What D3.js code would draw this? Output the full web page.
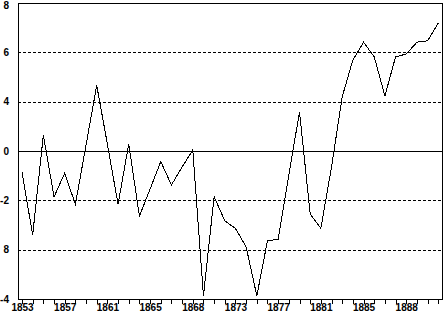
<!DOCTYPE html>
<html>
<head>
<meta charset="utf-8">
<script src="https://cdn.jsdelivr.net/npm/d3@7"></script>
<style>
    body { margin: 0; background: #fff; }
    text { font-family: "Liberation Sans", Arial, sans-serif; font-weight: bold; font-size: 10px; fill: #000; }
</style>
</head>
<body>
<div id="chart"></div>
<script>
    // values, one per year
    var years = d3.range(1953, 1993);
    var values = [-0.85, -3.41, 0.65, -1.86, -0.90, -2.16, 0.24, 2.66, 0.28, -2.16,
                  0.28, -2.64, -1.54, -0.43, -1.38, -0.65, 0.04, -5.87, -1.85, -2.83,
                  -3.14, -3.89, -5.87, -3.64, -3.58, -0.97, 1.59, -2.55, -3.13, -0.65,
                  2.20, 3.69, 4.41, 3.82, 2.23, 3.82, 3.93, 4.41, 4.47, 5.18];

    // tick values and the labels as printed on the chart
    var yTicks = [-6, -4, -2, 0, 2, 4, 6];
    var yLabels = ["-4", "8", "-2", "0", "4", "6", "8"];
    var xLabelYears = [1953, 1957, 1961, 1965, 1969, 1973, 1977, 1981, 1985, 1989];
    var xLabels = ["1853", "1857", "1861", "1865", "1868", "1873", "1877", "1881", "1885", "1888"];

    // plot box (note: "top" is taken by window.top, so use other names)
    var w = 445,
        h = 313,
        plotLeft = 18,
        plotRight = 442,
        plotTop = 3,
        plotBottom = 299;

    var svg = d3.select("#chart")
        .append("svg")
        .attr("width", w)
        .attr("height", h);

    var x = d3.scaleLinear().domain([1952.625, 1992.35]).range([plotLeft, plotRight]);
    var y = d3.scaleLinear().domain([-6, 6]).range([plotBottom, plotTop]);

    // grid lines, dashed except the zero line
    svg.selectAll("line.grid")
        .data(yTicks.filter(function(d) { return d > -6 && d < 6; }))
        .enter().append("line")
        .attr("class", "grid")
        .attr("x1", plotLeft).attr("x2", plotRight)
        .attr("y1", function(d) { return Math.round(y(d)) + 0.5; })
        .attr("y2", function(d) { return Math.round(y(d)) + 0.5; })
        .attr("stroke", "#000")
        .attr("stroke-width", 1)
        .attr("stroke-dasharray", function(d) { return d === 0 ? null : "3,2"; })
        .attr("shape-rendering", "crispEdges");

    // frame
    svg.append("rect")
        .attr("x", plotLeft + 0.5).attr("y", plotTop + 0.5)
        .attr("width", plotRight - plotLeft).attr("height", plotBottom - plotTop)
        .attr("fill", "none")
        .attr("stroke", "#000")
        .attr("shape-rendering", "crispEdges");

    // y labels
    svg.selectAll("text.ylab")
        .data(yTicks)
        .enter().append("text")
        .attr("class", "ylab")
        .attr("x", 9)
        .attr("y", function(d) { return Math.min(Math.max(y(d), 5), 307); })
        .attr("dy", "0.35em")
        .attr("text-anchor", "end")
        .text(function(d, i) { return yLabels[i]; });

    // x axis with a tick each year
    var xAxis = d3.axisBottom(x)
        .tickValues(years)
        .tickSize(4)
        .tickFormat(function(d) {
            var i = xLabelYears.indexOf(d);
            return i < 0 ? "" : xLabels[i];
        });

    var gx = svg.append("g")
        .attr("transform", "translate(0," + (plotBottom + 0.5) + ")")
        .call(xAxis);
    gx.select(".domain").remove();
    gx.selectAll("line").attr("shape-rendering", "crispEdges").attr("stroke", "#000");
    gx.selectAll("text")
        .attr("y", 4)
        .attr("dy", "0.71em")
        .style("font-family", "'Liberation Sans', Arial, sans-serif")
        .style("font-weight", "bold")
        .style("font-size", "10px");

    // the series
    var line = d3.line()
        .x(function(d, i) { return x(years[i]); })
        .y(function(d) { return y(d); });

    svg.append("path")
        .datum(values)
        .attr("d", line)
        .attr("fill", "none")
        .attr("stroke", "#000")
        .attr("stroke-width", 1)
        .attr("shape-rendering", "crispEdges");
</script>
</body>
</html>
